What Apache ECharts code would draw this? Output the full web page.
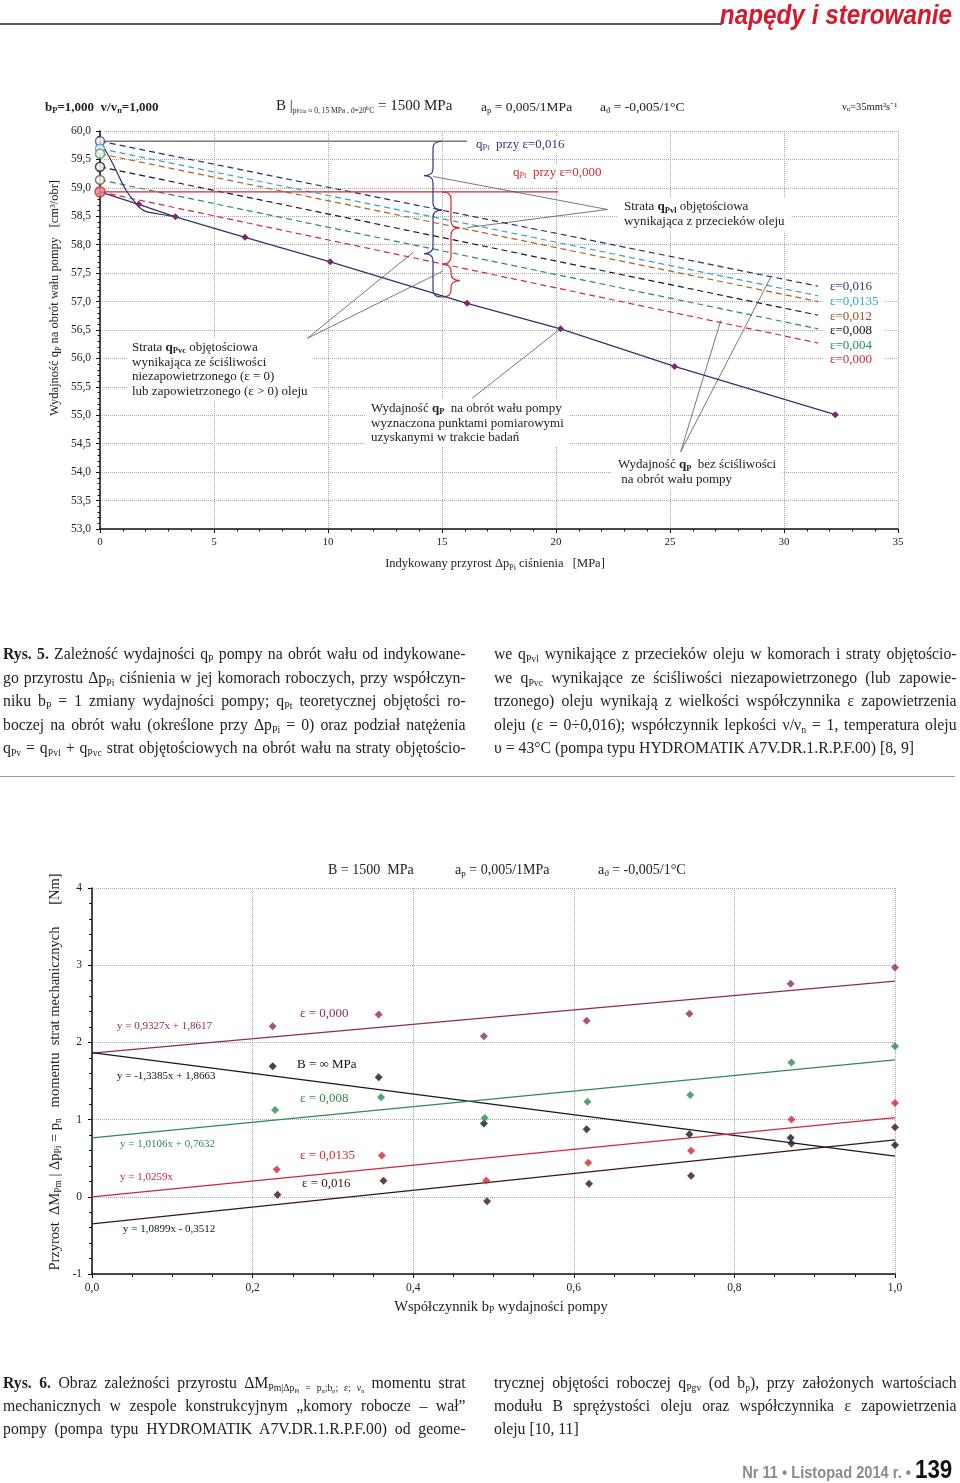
<!DOCTYPE html>
<html><head><meta charset="utf-8">
<script src="https://cdn.jsdelivr.net/npm/echarts@6/dist/echarts.min.js"></script>
<style>
html,body{margin:0;padding:0;background:#fff;}
#page{position:relative;width:960px;height:1483px;overflow:hidden;background:#fff;}
#chart{position:absolute;left:0;top:0;width:960px;height:1483px;z-index:0;}
.cap{position:absolute;z-index:2;font-family:'Liberation Serif','Times New Roman',serif;font-size:17.5px;color:#222;transform:scaleX(0.9);transform-origin:0 0;width:514px;}
.cap div{text-align:justify;text-align-last:justify;white-space:nowrap;}
.cap div.last{text-align-last:left;}
.cap sub{font-size:0.62em;vertical-align:-0.25em;line-height:0;}
.hline{position:absolute;z-index:2;}
#brand{position:absolute;z-index:2;right:8px;top:0px;font-family:'Liberation Sans',Arial,sans-serif;font-weight:bold;font-style:italic;font-size:27px;color:#d41a2f;transform:scaleX(0.9);transform-origin:100% 0;white-space:nowrap;}
#footer{position:absolute;z-index:2;right:8px;top:1454px;font-family:'Liberation Sans',Arial,sans-serif;white-space:nowrap;transform:scaleX(0.86);transform-origin:100% 0;}
#footer .g{color:#8a8a8a;font-size:17px;font-weight:bold;}
#footer .n{color:#111;font-size:26px;font-weight:bold;}
</style></head>
<body><div id="page">
<div id="chart"></div>
<div id="brand">napędy i sterowanie</div>
<div class="hline" style="left:0;top:23px;width:722px;height:2px;background:#5a5a5a;"></div>

<div class="cap" style="left:3px;top:642px;line-height:23.5px;">
<div><b>Rys. 5.</b> Zależność wydajności q<sub>P</sub> pompy na obrót wału od indykowane-</div>
<div>go przyrostu Δp<sub>Pi</sub> ciśnienia w jej komorach roboczych, przy współczyn-</div>
<div>niku b<sub>P</sub> = 1 zmiany wydajności pompy; q<sub>Pt</sub> teoretycznej objętości ro-</div>
<div>boczej na obrót wału (określone przy Δp<sub>Pi</sub> = 0) oraz podział natężenia</div>
<div>q<sub>Pv</sub> = q<sub>Pvl</sub> + q<sub>Pvc</sub> strat objętościowych na obrót wału na straty objętościo-</div>
</div>
<div class="cap" style="left:494px;top:642px;line-height:23.5px;">
<div>we q<sub>Pvl</sub> wynikające z przecieków oleju w komorach i straty objętościo-</div>
<div>we q<sub>Pvc</sub> wynikające ze ściśliwości niezapowietrzonego (lub zapowie-</div>
<div>trzonego) oleju wynikają z wielkości współczynnika ε zapowietrzenia</div>
<div>oleju (ε = 0÷0,016); współczynnik lepkości ν/ν<sub>n</sub> = 1, temperatura oleju</div>
<div class="last">υ = 43°C (pompa typu HYDROMATIK A7V.DR.1.R.P.F.00) [8, 9]</div>
</div>
<div class="hline" style="left:0;top:776px;width:955px;height:1px;background:#9a9a9a;"></div>

<div class="cap" style="left:3px;top:1371px;line-height:23px;">
<div><b>Rys. 6.</b> Obraz zależności przyrostu ΔM<sub>Pm|Δp<sub>Pi</sub> = p<sub>n</sub>;b<sub>p</sub>; ε; ν<sub>n</sub></sub> momentu strat</div>
<div>mechanicznych w zespole konstrukcyjnym „komory robocze – wał”</div>
<div>pompy (pompa typu HYDROMATIK A7V.DR.1.R.P.F.00) od geome-</div>
</div>
<div class="cap" style="left:494px;top:1371px;line-height:23px;">
<div>trycznej objętości roboczej q<sub>Pgv</sub> (od b<sub>p</sub>), przy założonych wartościach</div>
<div>modułu B sprężystości oleju oraz współczynnika ε zapowietrzenia</div>
<div class="last">oleju [10, 11]</div>
</div>
<div id="footer"><span class="g">Nr 11 • Listopad 2014 r. • </span><span class="n">139</span></div>
</div>
<script>
// ================= DATA: Rys. 5 =================
const dpTickStep = 5;
const epsLabels = ['ε=0,016', 'ε=0,0135', 'ε=0,012', 'ε=0,008', 'ε=0,004', 'ε=0,000'];
const epsLineX = [0, 31.5];
const epsLineStart = [59.82, 59.69, 59.60, 59.37, 59.14, 58.93];
const epsLineEnd = [57.27, 57.10, 57.00, 56.76, 56.52, 56.27];
const measuredX = [0, 1.70, 3.31, 6.36, 10.1, 16.1, 20.2, 25.2, 32.25];
const measuredY = [58.93, 58.71, 58.49, 58.13, 57.70, 56.97, 56.52, 55.86, 55.01];
const compressX = [0, 0.53, 1.11, 1.55, 1.92, 2.58, 3.31];
const compressY = [59.82, 59.45, 58.98, 58.74, 58.60, 58.54, 58.49];
const qPt016X = [0, 16.1];
const qPt016Y = [59.82, 59.82];
const qPt000X = [0, 20.1];
const qPt000Y = [58.93, 58.93];
const braceX = 15;
const navyBraceY = [[59.82, 58.61], [58.61, 57.08]];
const redBraceY = [[58.93, 57.66], [57.66, 57.08]];

// ================= DATA: Rys. 6 =================
const bpEps0 = [0.225, 0.357, 0.488, 0.616, 0.744, 0.870, 1.0];
const dMEps0 = [2.21, 2.36, 2.08, 2.28, 2.37, 2.76, 2.97];
const bpBinf = [0.225, 0.357, 0.488, 0.616, 0.744, 0.870, 1.0];
const dMBinf = [1.69, 1.55, 0.95, 0.875, 0.81, 0.765, 0.67];
const bpEps008 = [0.228, 0.360, 0.489, 0.617, 0.745, 0.871, 1.0];
const dMEps008 = [1.125, 1.29, 1.02, 1.23, 1.32, 1.74, 1.95];
const bpEps0135 = [0.230, 0.361, 0.491, 0.618, 0.746, 0.871, 1.0];
const dMEps0135 = [0.353, 0.534, 0.211, 0.44, 0.595, 1.0, 1.216];
const bpEps016 = [0.231, 0.363, 0.492, 0.619, 0.746, 0.871, 1.0];
const dMEps016 = [0.026, 0.207, -0.057, 0.168, 0.272, 0.69, 0.90];
const trendX = [0, 1];
const trendEps0 = [1.8617, 2.7944];
const trendBinf = [1.8663, 0.5278];
const trendEps008 = [0.7632, 1.7738];
const trendEps0135 = [0, 1.0259];
const trendEps016 = [-0.3512, 0.7387];

// ================= STYLE =================
const SERIF = "'Liberation Serif','Times New Roman',serif";
const epsColors = ['#23306e', '#3aa0c8', '#b0601e', '#1a1a1a', '#2e8b57', '#d42a3a'];
const epsLabelColors = ['#2a3a80', '#3aa0c8', '#a0521a', '#111111', '#2e8b57', '#d42a3a'];
const circleColors = ['#3a4a8a', '#3aa0c8', '#4a9a5a', '#222222', '#6a5a2a', '#d42a3a'];
const c2 = {eps0: '#8c2a5c', binf: '#15152a', eps008: '#2e8a4e', eps0135: '#d3263a', eps016: '#3b1515'};

const zip = (xs, ys) => xs.map((x, i) => [x, ys[i]]);
const comma = v => String(v).replace('.', ',');

function axisCommon(extra) {
  return Object.assign({
    type: 'value',
    axisLine: {show: true, onZero: false, lineStyle: {color: '#111', width: 1.5}},
    axisTick: {show: true, length: 4, lineStyle: {color: '#111', width: 1}},
    minorTick: {show: true, length: 2.5, lineStyle: {color: '#111', width: 1}},
    splitLine: {show: true, lineStyle: {color: '#a8a8a8', type: 'dotted', width: 1}},
    minorSplitLine: {show: false},
    axisLabel: {fontFamily: SERIF, fontSize: 11, color: '#222'}
  }, extra);
}

function rs(fs, color, opt) {
  return Object.assign({fontFamily: SERIF, fontSize: fs, fill: color, color: color}, opt || {});
}
function richSet(fs, color, lh) {
  return {
    n: rs(fs, color, {lineHeight: lh}),
    b: rs(fs, color, {lineHeight: lh, fontWeight: 'bold'}),
    s: rs(fs * 0.65, color, {lineHeight: lh * 0.45, verticalAlign: 'bottom'}),
    bs: rs(fs * 0.65, color, {lineHeight: lh * 0.45, verticalAlign: 'bottom', fontWeight: 'bold'})
  };
}
function gtext(x, y, text, rich, o) {
  o = o || {};
  const st = {
    text: text, rich: rich, fontFamily: SERIF, fontSize: o.fs || 13, fill: o.color || '#222',
    align: o.align || 'left', verticalAlign: o.va || 'top'
  };
  if (o.bg) { st.backgroundColor = o.bg; st.padding = o.pad || [2, 4]; }
  return {type: 'text', x: x, y: y, z: 100, silent: true, rotation: o.rot || 0, style: st};
}

function renderBrace(params, api) {
  const x = api.value(0), ya = api.value(1), yb = api.value(2), dir = api.value(3);
  const a = api.coord([x, ya]), b = api.coord([x, yb]);
  const w = 18 * dir, h = b[1] - a[1];
  const r = Math.min(7, h / 4);
  const xs = a[0] + w * 0.5, xt = a[0] + w, ym = (a[1] + b[1]) / 2;
  const d = 'M' + a[0] + ',' + a[1] + ' Q' + xs + ',' + a[1] + ' ' + xs + ',' + (a[1] + r) +
    ' L' + xs + ',' + (ym - r) + ' Q' + xs + ',' + ym + ' ' + xt + ',' + ym +
    ' Q' + xs + ',' + ym + ' ' + xs + ',' + (ym + r) + ' L' + xs + ',' + (b[1] - r) +
    ' Q' + xs + ',' + b[1] + ' ' + a[0] + ',' + b[1];
  return {type: 'path', shape: {pathData: d}, style: {fill: 'none', stroke: api.visual('color'), lineWidth: 1.2}};
}

// annotation leader lines (data coordinates of Rys. 5)
const leaders1 = [
  [[9.08, 56.35], [13.75, 57.87]],
  [[9.08, 56.35], [15.06, 57.54]],
  [[22.25, 58.62], [14.62, 59.20]],
  [[22.25, 58.62], [16.1, 58.30]],
  [[16.32, 55.30], [20.13, 56.50]],
  [[25.47, 54.36], [27.23, 56.67]],
  [[25.47, 54.36], [29.42, 57.43]]
];

const series = [];
// ----- Rys. 5 series -----
epsLineStart.forEach((y0, i) => {
  series.push({
    type: 'line', xAxisIndex: 0, yAxisIndex: 0, name: epsLabels[i],
    data: [[epsLineX[0], y0], [epsLineX[1], epsLineEnd[i]]],
    symbol: 'none', silent: true, z: 2,
    lineStyle: {color: epsColors[i], width: 1.2, type: [6, 4]}
  });
});
series.push({type: 'line', xAxisIndex: 0, yAxisIndex: 0, data: zip(qPt016X, qPt016Y), symbol: 'none', z: 2,
  lineStyle: {color: '#7a7a80', width: 1.6}});
series.push({type: 'line', xAxisIndex: 0, yAxisIndex: 0, data: zip(qPt000X, qPt000Y), symbol: 'none', z: 2,
  lineStyle: {color: '#d42a3a', width: 1.3}});
series.push({type: 'line', xAxisIndex: 0, yAxisIndex: 0, data: zip(compressX, compressY), symbol: 'none', smooth: 0.4, z: 3,
  lineStyle: {color: '#2b2f6e', width: 1.2}});
series.push({type: 'line', xAxisIndex: 0, yAxisIndex: 0, showAllSymbol: true, z: 4,
  data: measuredX.map((x, i) => i === 0 ? {value: [x, measuredY[i]], symbol: 'none'} : [x, measuredY[i]]),
  symbol: 'diamond', symbolSize: 7, lineStyle: {color: '#3b2f6b', width: 1.3}, itemStyle: {color: '#7b2a6e'}});
series.push({type: 'scatter', xAxisIndex: 0, yAxisIndex: 0, z: 5, symbol: 'circle',
  data: epsLineStart.map((y, i) => ({
    value: [0, y], symbolSize: i === 5 ? 10 : 9,
    itemStyle: {color: i === 5 ? '#f08a8a' : '#ffffff', borderColor: circleColors[i], borderWidth: 1.5}
  }))});
series.push({type: 'custom', xAxisIndex: 0, yAxisIndex: 0, renderItem: renderBrace, z: 4, silent: true,
  itemStyle: {color: '#2b3a7a'}, encode: {x: 0, y: [1, 2]},
  data: navyBraceY.map(p => [braceX, p[0], p[1], -1])});
series.push({type: 'custom', xAxisIndex: 0, yAxisIndex: 0, renderItem: renderBrace, z: 4, silent: true,
  itemStyle: {color: '#d42a3a'}, encode: {x: 0, y: [1, 2]},
  data: redBraceY.map(p => [braceX, p[0], p[1], 1])});
series.push({type: 'lines', coordinateSystem: 'cartesian2d', xAxisIndex: 0, yAxisIndex: 0, z: 3, silent: true,
  lineStyle: {color: '#555', width: 0.8, opacity: 1},
  data: leaders1.map(c => ({coords: c}))});

// ----- Rys. 6 series -----
const s2 = [
  [trendEps0, bpEps0, dMEps0, c2.eps0],
  [trendBinf, bpBinf, dMBinf, c2.binf],
  [trendEps008, bpEps008, dMEps008, c2.eps008],
  [trendEps0135, bpEps0135, dMEps0135, c2.eps0135],
  [trendEps016, bpEps016, dMEps016, c2.eps016]
];
s2.forEach(([tr, xs, ys, col]) => {
  series.push({type: 'line', xAxisIndex: 1, yAxisIndex: 1, data: zip(trendX, tr), symbol: 'none', z: 2,
    lineStyle: {color: col, width: 1.3}});
  series.push({type: 'scatter', xAxisIndex: 1, yAxisIndex: 1, data: zip(xs, ys), symbol: 'diamond', symbolSize: 8, z: 3,
    itemStyle: {color: col}});
});

// ----- texts -----
const R13 = richSet(13, '#222', 14.5);
const R13b = richSet(13, '#2a3a80', 15);
const R13r = richSet(13, '#d42a3a', 15);
const R12 = richSet(12.5, '#222', 15);
const R14 = richSet(14, '#222', 16);
const R15 = richSet(14.5, '#222', 17);
const epsRich = {};
epsLabelColors.forEach((c, i) => { epsRich['e' + i] = rs(13, c, {lineHeight: 14.6}); });

const graphics = [
  // Rys. 5 header
  gtext(45, 100, '{b|b}{bs|P}{b|=1,000  v/v}{bs|n}{b|=1,000}', R13),
  gtext(276, 98, '{n|B}{n| |}{t|p}{ts|P1ia}{t| ≈ 0, 15 MPa , ϑ=20⁰C}{n| = 1500 MPa}', Object.assign({}, richSet(15, '#222', 17),
    {t: rs(7.5, '#222', {lineHeight: 7, verticalAlign: 'bottom'}), ts: rs(5.5, '#222', {lineHeight: 4, verticalAlign: 'bottom'})})),
  gtext(481, 99, '{n|a}{s|p}{n| = 0,005/1MPa}', richSet(13.5, '#222', 16)),
  gtext(600, 99, '{n|a}{s|ϑ}{n| = -0,005/1°C}', richSet(13.5, '#222', 16)),
  gtext(842, 101, '{n|ν}{s|n}{n|=35mm²s⁻¹}', richSet(10.5, '#222', 12)),
  // Rys. 5 annotations
  gtext(472, 136, '{n|q}{s|Pt}{n|  przy ε=0,016}', R13b, {bg: '#fff', pad: [1, 4]}),
  gtext(509, 164, '{n|q}{s|Pt}{n|  przy ε=0,000}', R13r, {bg: '#fff', pad: [1, 4]}),
  gtext(618, 197.5, '{n|Strata }{b|q}{bs|Pvl}{n| objętościowa}\n{n|wynikająca z przecieków oleju}', richSet(13, '#222', 15), {bg: '#fff', pad: [2, 6]}),
  gtext(127, 338.5, '{n|Strata }{b|q}{bs|Pvc}{n| objętościowa}\n{n|wynikająca ze ściśliwości}\n{n|niezapowietrzonego (ε = 0)}\n{n|lub zapowietrzonego (ε > 0) oleju}', R13, {bg: '#fff', pad: [2, 5]}),
  gtext(365, 399.5, '{n|Wydajność }{b|q}{bs|P}{n|  na obrót wału pompy}\n{n|wyznaczona punktami pomiarowymi}\n{n|uzyskanymi w trakcie badań}', R13, {bg: '#fff', pad: [2, 6]}),
  gtext(612, 455.5, '{n|Wydajność }{b|q}{bs|P}{n|  bez ściśliwości}\n{n| na obrót wału pompy}', richSet(13, '#222', 15), {bg: '#fff', pad: [2, 6]}),
  gtext(824, 277.7, epsLabels.map((t, i) => '{e' + i + '|' + t + '}').join('\n'), epsRich, {bg: '#fff', pad: [2, 6]}),
  // Rys. 5 axis names
  gtext(495, 564, '{n|Indykowany przyrost Δp}{s|Pi}{n| ciśnienia   [MPa]}', R12, {align: 'center', va: 'middle'}),
  gtext(55, 298, '{n|Wydajność q}{s|P}{n| na obrót wału pompy   [cm³/obr]}', R12, {align: 'center', va: 'middle', rot: Math.PI / 2}),
  // Rys. 6 header
  gtext(328, 862, '{n|B = 1500  MPa}', R14),
  gtext(455, 862, '{n|a}{s|p}{n| = 0,005/1MPa}', R14),
  gtext(598, 862, '{n|a}{s|ϑ}{n| = -0,005/1°C}', R14),
  // Rys. 6 labels
  gtext(117, 1021, 'y = 0,9327x + 1,8617', null, {fs: 11, color: c2.eps0}),
  gtext(300, 1007, 'ε = 0,000', null, {fs: 13, color: c2.eps0}),
  gtext(297, 1058, 'B = ∞ MPa', null, {fs: 13, color: '#111'}),
  gtext(117, 1071, 'y = -1,3385x + 1,8663', null, {fs: 11, color: '#111'}),
  gtext(300, 1092, 'ε = 0,008', null, {fs: 13, color: c2.eps008}),
  gtext(120, 1139, 'y = 1,0106x + 0,7632', null, {fs: 11, color: c2.eps008}),
  gtext(300, 1149, 'ε = 0,0135', null, {fs: 13, color: c2.eps0135}),
  gtext(120, 1172, 'y = 1,0259x', null, {fs: 11, color: c2.eps0135}),
  gtext(302, 1177, 'ε = 0,016', null, {fs: 13, color: c2.eps016}),
  gtext(123, 1224, 'y = 1,0899x - 0,3512', null, {fs: 11, color: '#111'}),
  // Rys. 6 axis names
  gtext(501, 1307, '{n|Współczynnik b}{s|P}{n| wydajności pompy}', R15, {align: 'center', va: 'middle'}),
  gtext(55, 1072, '{n|Przyrost  ΔM}{s|Pm}{n| | Δp}{s|Pi}{n| = p}{s|n}{n|   momentu  strat mechanicznych      [Nm]}', R15, {align: 'center', va: 'middle', rot: Math.PI / 2})
];

const option = {
  animation: false,
  backgroundColor: 'transparent',
  grid: [
    {left: 100, top: 131, width: 798, height: 398},
    {left: 92, top: 888, width: 803, height: 386}
  ],
  xAxis: [
    axisCommon({gridIndex: 0, min: 0, max: 35, interval: dpTickStep, minorTick: {show: true, splitNumber: 5, length: 2.5, lineStyle: {color: '#111'}},
      axisLabel: {fontFamily: SERIF, fontSize: 11, color: '#222', margin: 8, formatter: v => String(v)}}),
    axisCommon({gridIndex: 1, min: 0, max: 1, interval: 0.2, minorTick: {show: true, splitNumber: 4, length: 3, lineStyle: {color: '#111'}},
      axisLabel: {fontFamily: SERIF, fontSize: 11.5, color: '#222', margin: 8, formatter: v => comma(v.toFixed(1))}})
  ],
  yAxis: [
    axisCommon({gridIndex: 0, min: 53, max: 60, interval: 0.5, minorTick: {show: true, splitNumber: 5, length: 2.5, lineStyle: {color: '#111'}},
      axisLabel: {fontFamily: SERIF, fontSize: 11.5, color: '#222', margin: 9, formatter: v => comma(v.toFixed(1))}}),
    axisCommon({gridIndex: 1, min: -1, max: 4, interval: 1, minorTick: {show: true, splitNumber: 5, length: 3, lineStyle: {color: '#111'}},
      axisLabel: {fontFamily: SERIF, fontSize: 11.5, color: '#222', margin: 10, formatter: v => String(v)}})
  ],
  series: series,
  graphic: {elements: graphics}
};

const chart = echarts.init(document.getElementById('chart'), null, {renderer: 'canvas'});
chart.setOption(option);
</script>
</body></html>
